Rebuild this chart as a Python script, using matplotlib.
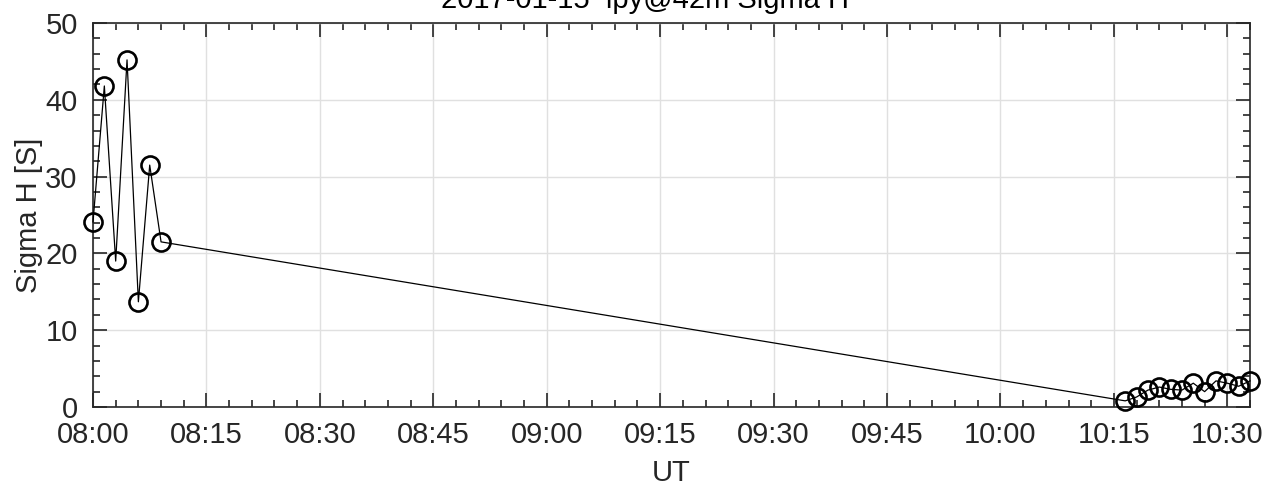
import matplotlib
matplotlib.use('Agg')
import matplotlib.pyplot as plt
import matplotlib.dates as mdates
import numpy as np
from datetime import datetime

plt.rcParams['font.family'] = ['Liberation Sans', 'DejaVu Sans']

# sample times (UT) and Sigma H values
times = ['08:00:00', '08:01:30', '08:03:00', '08:04:30', '08:06:00', '08:07:30', '08:09:00',
         '10:16:30', '10:18:00', '10:19:30', '10:21:00', '10:22:30', '10:24:00',
         '10:25:30', '10:27:00', '10:28:30', '10:30:00', '10:31:30', '10:33:00']
sigma_h = [24.1, 41.8, 19.0, 45.2, 13.7, 31.5, 21.5,
           0.8, 1.3, 2.2, 2.6, 2.3, 2.2, 3.1, 2.0, 3.4, 3.1, 2.7, 3.4]

day = '2017-01-15'
t = [datetime.strptime(day + ' ' + s, '%Y-%m-%d %H:%M:%S') for s in times]

fig = plt.figure(figsize=(12.68, 4.93), dpi=100)
ax = fig.add_axes([93/1268, 1 - 407/493, (1250-93)/1268, (407-23)/493])

ax.plot(t, sigma_h, color='black', lw=0.9, marker='o', ms=13, mfc='none',
        mec='black', mew=1.9, clip_on=False, zorder=3)

ax.set_xlim(datetime(2017, 1, 15, 8, 0), datetime(2017, 1, 15, 10, 33))
ax.set_ylim(0, 50)
ax.xaxis.set_major_locator(mdates.MinuteLocator(byminute=[0, 15, 30, 45]))
ax.xaxis.set_minor_locator(mdates.MinuteLocator(byminute=range(0, 60, 3)))
ax.xaxis.set_major_formatter(mdates.DateFormatter('%H:%M'))
ax.set_yticks(np.arange(0, 51, 10))
ax.set_yticks(np.arange(0, 51, 2), minor=True)

ax.grid(True, which='major', color='#e0e0e0', lw=1.0, zorder=0)
ax.set_axisbelow(True)
ax.tick_params(which='both', direction='in', top=True, right=True,
               labelsize=21, colors='#262626', width=1.2)
ax.tick_params(axis='x', which='major', pad=10)
ax.tick_params(axis='y', which='major', pad=11)
ax.tick_params(which='major', length=10)
ax.tick_params(which='minor', length=5)
for sp in ax.spines.values():
    sp.set_linewidth(1.2)
    sp.set_color('#262626')

ax.set_xlabel('UT', fontsize=21, color='#262626', labelpad=7)
ax.set_ylabel('Sigma H [S]', fontsize=21, color='#262626', labelpad=2)
fig.text(645/1268, 1 - 8/493, day + '  ipy@42m Sigma H', fontsize=21,
         ha='center', va='baseline', color='black')

fig.savefig('out.png', dpi=100)
